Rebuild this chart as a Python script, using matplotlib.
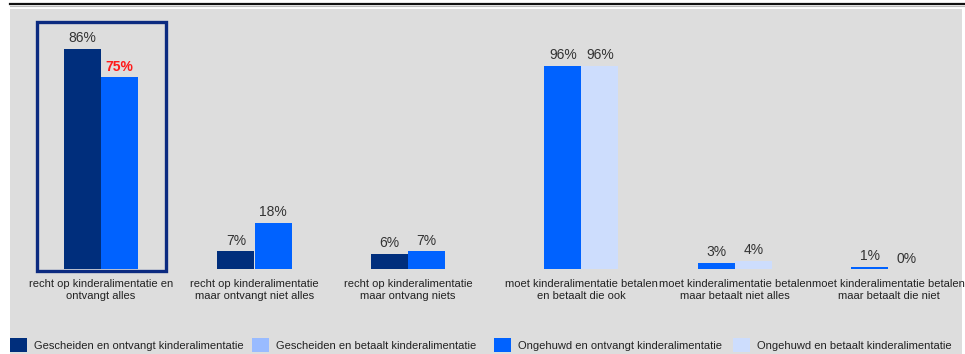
import matplotlib
matplotlib.use("Agg")
import matplotlib.pyplot as plt
from matplotlib.patches import Rectangle, Patch
from matplotlib.lines import Line2D
import numpy as np

plt.rcParams['font.family'] = ['Liberation Sans', 'DejaVu Sans']

# Left chart: recht op kinderalimentatie
left_categories = ["recht op kinderalimentatie en\nontvangt alles",
                   "recht op kinderalimentatie\nmaar ontvangt niet alles",
                   "recht op kinderalimentatie\nmaar ontvang niets"]
gescheiden_ontvangt = [86, 7, 6]
ongehuwd_ontvangt = [75, 18, 7]

# Right chart: moet kinderalimentatie betalen
right_categories = ["moet kinderalimentatie betalen\nen betaalt die ook",
                    "moet kinderalimentatie betalen\nmaar betaalt niet alles",
                    "moet kinderalimentatie betalen\nmaar betaalt die niet"]
gescheiden_betaalt = [96, 3, 1]
ongehuwd_betaalt = [96, 4, 0]

legend_labels = ["Gescheiden en ontvangt kinderalimentatie",
                 "Gescheiden en betaalt kinderalimentatie",
                 "Ongehuwd en ontvangt kinderalimentatie",
                 "Ongehuwd en betaalt kinderalimentatie"]

c_dark = "#002e7c"
c_light = "#99bbff"
c_blue = "#0062ff"
c_vlight = "#cdddfd"
txt = "#333333"

W, H = 965, 354
fig = plt.figure(figsize=(W / 100, H / 100), dpi=100)
fig.patch.set_facecolor("white")

# background panel and top rule
fig.patches.append(Rectangle((10 / W, 0), (962 - 10) / W, (H - 9) / H,
                             transform=fig.transFigure, facecolor="#dddddd",
                             edgecolor="none", zorder=-5))
fig.lines.append(Line2D([10 / W, 1], [(H - 3.5) / H] * 2, transform=fig.transFigure,
                        color="#111111", linewidth=1.6, zorder=-4))
fig.lines.append(Line2D([10 / W, 1], [(H - 6) / H] * 2, transform=fig.transFigure,
                        color="#bbbbbb", linewidth=0.8, zorder=-4))

unit = 153.5
x0 = 101
base_px = 269
top_px = 15
ax_rect = [0, (H - base_px) / H, 1, (base_px - top_px) / H]
xlim = (-x0 / unit, (W - x0) / unit)
plot_h = base_px - top_px

axL = fig.add_axes(ax_rect)
axR = fig.add_axes(ax_rect)
for ax in (axL, axR):
    ax.axis("off")
    ax.patch.set_alpha(0)

bw = 37 / unit
gap = 0.13
xl = np.arange(3)
xr = np.arange(3) + 3 + gap

axL.bar(xl - bw / 2, gescheiden_ontvangt, bw, color=c_dark, zorder=3)
axL.bar(xl + bw / 2, ongehuwd_ontvangt, bw, color=c_blue, zorder=3)
axR.bar(xr - bw / 2, gescheiden_betaalt, bw, color=c_blue, zorder=3)
axR.bar(xr + bw / 2, ongehuwd_betaalt, bw, color=c_vlight, zorder=3)

for ax in (axL, axR):
    ax.set_xlim(*xlim)
axL.set_ylim(0, plot_h / 2.56)
axR.set_ylim(0, plot_h / 2.115)

fs_val = 10
off = 2.5
for i, (a, b) in enumerate(zip(gescheiden_ontvangt, ongehuwd_ontvangt)):
    axL.annotate(f"{a}%", (xl[i] - bw / 2, a), xytext=(0, off), textcoords="offset points",
                 ha="center", va="bottom", fontsize=fs_val, color=txt)
    if i == 0:
        axL.annotate(f"{b}%", (xl[i] + bw / 2, b), xytext=(0, off), textcoords="offset points",
                     ha="center", va="bottom", fontsize=fs_val, color="#ff1a1a",
                     fontweight="bold")
    else:
        axL.annotate(f"{b}%", (xl[i] + bw / 2, b), xytext=(0, off), textcoords="offset points",
                     ha="center", va="bottom", fontsize=fs_val, color=txt)
for i, (a, b) in enumerate(zip(gescheiden_betaalt, ongehuwd_betaalt)):
    axR.annotate(f"{a}%", (xr[i] - bw / 2, a), xytext=(0, off), textcoords="offset points",
                 ha="center", va="bottom", fontsize=fs_val, color=txt)
    axR.annotate(f"{b}%", (xr[i] + bw / 2, b), xytext=(0, off), textcoords="offset points",
                 ha="center", va="bottom", fontsize=fs_val, color=txt)

fs_cat = 8.0
for xi, lab in zip(xl, left_categories):
    axL.annotate(lab, (xi, 0), xytext=(0, -7.5), textcoords="offset points",
                 ha="center", va="top", fontsize=fs_cat, color="#222222",
                 linespacing=1.2, annotation_clip=False)
for xi, lab in zip(xr, right_categories):
    axR.annotate(lab, (xi, 0), xytext=(0, -7.5), textcoords="offset points",
                 ha="center", va="top", fontsize=fs_cat, color="#222222",
                 linespacing=1.2, annotation_clip=False)

# highlight frame around first group
fig.patches.append(Rectangle((37 / W, (H - 271) / H), 129 / W, 249 / H,
                             transform=fig.transFigure, facecolor="none",
                             edgecolor="#0b2a80", linewidth=2.4, zorder=5))

# legend entries, one per series
leg_x = [10, 252, 494, 733]
fs_leg = 8.05
for col, lab, lx in zip((c_dark, c_light, c_blue, c_vlight), legend_labels, leg_x):
    fig.legend([Patch(facecolor=col)], [lab], loc="lower left",
               bbox_to_anchor=(lx / W, 2 / H), frameon=False,
               fontsize=fs_leg, handlelength=1.52, handleheight=1.52,
               handletextpad=0.6, borderpad=0, borderaxespad=0,
               labelcolor="#222222")

fig.savefig("out.png", dpi=100)
